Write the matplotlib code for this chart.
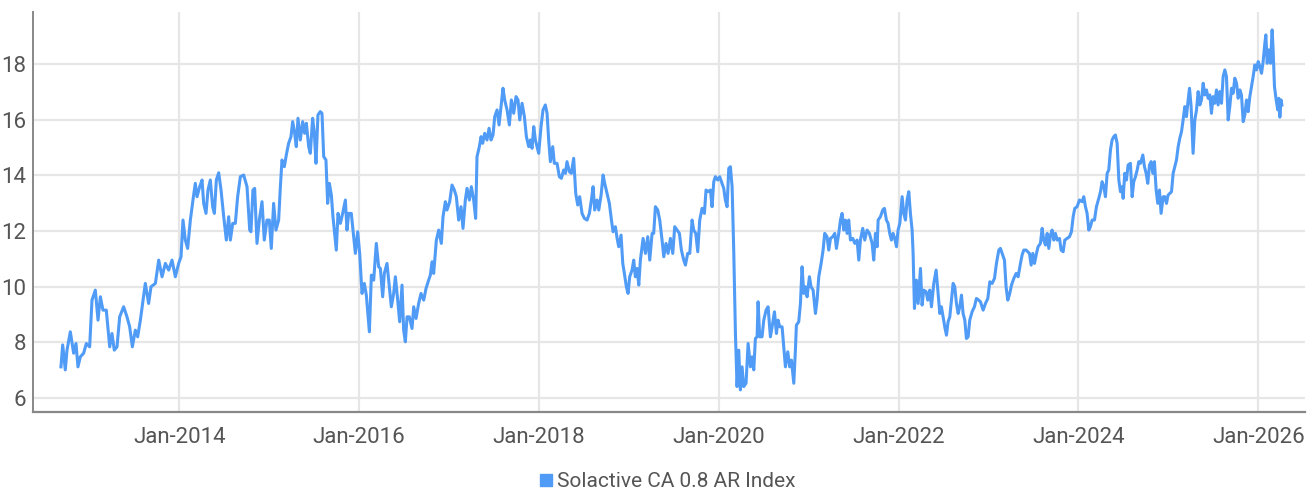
import matplotlib
matplotlib.use("Agg")
import matplotlib.pyplot as plt
from matplotlib.lines import Line2D

# index level, x as decimal year
years = [
    2012.684, 2012.703, 2012.732, 2012.751, 2012.788, 2012.825, 2012.851, 2012.873, 2012.899, 2012.936,
    2012.966, 2013.003, 2013.029, 2013.066, 2013.096, 2013.122, 2013.151, 2013.188, 2013.226, 2013.251,
    2013.277, 2013.307, 2013.337, 2013.381, 2013.418, 2013.448, 2013.478, 2013.511, 2013.537, 2013.567,
    2013.622, 2013.659, 2013.685, 2013.734, 2013.771, 2013.808, 2013.845, 2013.882, 2013.919, 2013.956,
    2013.993, 2014.019, 2014.041, 2014.067, 2014.093, 2014.123, 2014.152, 2014.178, 2014.197, 2014.227,
    2014.253, 2014.271, 2014.297, 2014.319, 2014.345, 2014.371, 2014.390, 2014.412, 2014.438, 2014.464,
    2014.494, 2014.523, 2014.549, 2014.568, 2014.594, 2014.623, 2014.649, 2014.679, 2014.716, 2014.753,
    2014.783,
    2014.797, 2014.819, 2014.838, 2014.864, 2014.890, 2014.920, 2014.945, 2014.975, 2015.001, 2015.023,
    2015.049, 2015.075, 2015.105, 2015.123, 2015.142, 2015.168, 2015.190, 2015.216, 2015.242, 2015.261,
    2015.283, 2015.301, 2015.320, 2015.346, 2015.372, 2015.394, 2015.413, 2015.439, 2015.457, 2015.483,
    2015.502, 2015.520, 2015.542, 2015.568, 2015.587, 2015.606, 2015.631, 2015.650, 2015.669, 2015.691,
    2015.709, 2015.724, 2015.746, 2015.765, 2015.791, 2015.817, 2015.847, 2015.865, 2015.884, 2015.913,
    2015.939, 2015.958, 2015.984, 2016.006, 2016.032, 2016.058, 2016.080, 2016.114, 2016.136, 2016.162,
    2016.191, 2016.217, 2016.236, 2016.262, 2016.280, 2016.310, 2016.336, 2016.358, 2016.384, 2016.403,
    2016.429, 2016.451, 2016.477, 2016.495, 2016.514, 2016.533, 2016.558, 2016.588, 2016.607, 2016.633,
    2016.662, 2016.688, 2016.718, 2016.744, 2016.773, 2016.792, 2016.811, 2016.829, 2016.859, 2016.885,
    2016.914, 2016.933, 2016.959, 2016.977, 2017.007, 2017.033, 2017.059, 2017.081,
    2017.107, 2017.133, 2017.155, 2017.181, 2017.200, 2017.226, 2017.248, 2017.274, 2017.296, 2017.311,
    2017.337, 2017.356, 2017.374, 2017.396, 2017.422, 2017.445, 2017.467, 2017.489, 2017.508, 2017.534,
    2017.556, 2017.578, 2017.600, 2017.619, 2017.645, 2017.671, 2017.693, 2017.719, 2017.745, 2017.767,
    2017.786, 2017.812, 2017.838, 2017.860, 2017.886, 2017.904, 2017.923, 2017.942, 2017.960, 2017.979,
    2017.997, 2018.023, 2018.045, 2018.071, 2018.090, 2018.108, 2018.127, 2018.153, 2018.171, 2018.201,
    2018.227, 2018.249, 2018.275, 2018.294, 2018.312, 2018.338, 2018.360, 2018.386, 2018.409, 2018.431,
    2018.453, 2018.479, 2018.505, 2018.535, 2018.561, 2018.583, 2018.602, 2018.620, 2018.646, 2018.665,
    2018.691, 2018.713, 2018.731, 2018.757, 2018.783, 2018.806, 2018.824, 2018.850, 2018.869, 2018.887,
    2018.913, 2018.932, 2018.950, 2018.972, 2018.991, 2019.009, 2019.035, 2019.054, 2019.072, 2019.091,
    2019.110, 2019.128, 2019.158, 2019.184, 2019.210, 2019.232, 2019.258, 2019.276, 2019.295, 2019.321,
    2019.343,
    2019.369, 2019.388, 2019.413, 2019.436, 2019.462, 2019.488, 2019.510, 2019.536, 2019.562, 2019.584,
    2019.610, 2019.629, 2019.654, 2019.677, 2019.703, 2019.721, 2019.744, 2019.766, 2019.788, 2019.814,
    2019.840, 2019.858, 2019.881, 2019.907, 2019.925, 2019.944, 2019.962, 2019.988, 2020.010, 2020.036,
    2020.055, 2020.073, 2020.092, 2020.111, 2020.129, 2020.148, 2020.166, 2020.185, 2020.203, 2020.222,
    2020.240, 2020.259, 2020.277, 2020.303, 2020.326, 2020.352, 2020.370, 2020.389, 2020.407, 2020.426,
    2020.437, 2020.455, 2020.481, 2020.500, 2020.526, 2020.548, 2020.574, 2020.593, 2020.619, 2020.641,
    2020.659, 2020.678, 2020.704, 2020.722, 2020.741, 2020.767, 2020.789, 2020.808, 2020.834, 2020.852,
    2020.863, 2020.889, 2020.908, 2020.926, 2020.945, 2020.963, 2020.982, 2021.008, 2021.026, 2021.049,
    2021.075, 2021.093, 2021.112, 2021.138, 2021.160, 2021.178, 2021.204, 2021.223, 2021.242, 2021.267,
    2021.290, 2021.308, 2021.334, 2021.353, 2021.371, 2021.390, 2021.408, 2021.427, 2021.445, 2021.464,
    2021.490, 2021.512, 2021.538, 2021.557, 2021.575, 2021.601, 2021.623, 2021.649, 2021.675,
    2021.705, 2021.723, 2021.742, 2021.761, 2021.772, 2021.798, 2021.823, 2021.842, 2021.864, 2021.883,
    2021.901, 2021.920, 2021.938, 2021.957, 2021.976, 2021.994, 2022.013, 2022.039, 2022.057, 2022.076,
    2022.094, 2022.113, 2022.131, 2022.150, 2022.161, 2022.176, 2022.198, 2022.217, 2022.243, 2022.261,
    2022.280, 2022.306, 2022.324, 2022.346, 2022.365, 2022.391, 2022.417, 2022.439, 2022.458, 2022.476,
    2022.495, 2022.513, 2022.532, 2022.550, 2022.569, 2022.587, 2022.606, 2022.624, 2022.643, 2022.662,
    2022.680, 2022.699, 2022.717, 2022.736, 2022.754, 2022.773, 2022.791, 2022.817, 2022.843, 2022.865,
    2022.891, 2022.910, 2022.940, 2022.966, 2022.992, 2023.014, 2023.040, 2023.066, 2023.088, 2023.114,
    2023.132, 2023.151, 2023.177, 2023.195, 2023.214, 2023.236, 2023.255, 2023.281, 2023.307, 2023.329,
    2023.355, 2023.373, 2023.392, 2023.418, 2023.436, 2023.455, 2023.474, 2023.492, 2023.511, 2023.533,
    2023.551, 2023.577, 2023.596, 2023.614, 2023.633, 2023.652, 2023.670, 2023.689, 2023.707, 2023.726,
    2023.744, 2023.763, 2023.789, 2023.807, 2023.830, 2023.848, 2023.874, 2023.900, 2023.922, 2023.941,
    2023.959, 2023.985, 2024.011,
    2024.041, 2024.059, 2024.078, 2024.096, 2024.115, 2024.133, 2024.152, 2024.178, 2024.200, 2024.226,
    2024.245, 2024.263, 2024.282, 2024.300, 2024.319, 2024.337, 2024.356, 2024.374, 2024.393, 2024.411,
    2024.430, 2024.449, 2024.467, 2024.486, 2024.497, 2024.515, 2024.534, 2024.552, 2024.578, 2024.597,
    2024.615, 2024.634, 2024.653, 2024.671, 2024.690, 2024.716, 2024.734, 2024.753, 2024.771, 2024.790,
    2024.808, 2024.827, 2024.845, 2024.864, 2024.882, 2024.901, 2024.919, 2024.942, 2024.960, 2024.979,
    2024.997, 2025.016, 2025.035, 2025.053, 2025.072, 2025.090, 2025.109, 2025.127, 2025.146, 2025.164,
    2025.183, 2025.201, 2025.220, 2025.235, 2025.253, 2025.275, 2025.294, 2025.313, 2025.331, 2025.350,
    2025.368, 2025.387, 2025.405, 2025.424, 2025.442, 2025.461, 2025.479, 2025.498, 2025.516, 2025.535,
    2025.553, 2025.572, 2025.591, 2025.609, 2025.628, 2025.646, 2025.665, 2025.683, 2025.702, 2025.720,
    2025.739, 2025.758, 2025.776, 2025.795, 2025.813, 2025.832, 2025.850, 2025.869, 2025.887, 2025.906,
    2025.924, 2025.943, 2025.961, 2025.980, 2025.999, 2026.017, 2026.036, 2026.054, 2026.073, 2026.084,
    2026.099, 2026.117, 2026.136, 2026.154, 2026.165, 2026.180, 2026.199, 2026.217, 2026.228, 2026.240,
    2026.254, 2026.262,
]

index_values = [
    7.11, 7.90, 7.00, 7.71, 8.37, 7.60, 7.95, 7.11, 7.47, 7.60,
    7.95, 7.83, 9.51, 9.87, 8.79, 9.63, 9.15, 9.15, 7.83, 8.31,
    7.71, 7.83, 8.91, 9.27, 8.91, 8.55, 7.83, 8.43, 8.19, 8.79,
    10.11, 9.39, 9.99, 10.11, 10.95, 10.35, 10.83, 10.59, 10.95, 10.35,
    10.83, 11.07, 12.39, 11.67, 11.37, 12.39, 13.11, 13.71, 13.23, 13.59,
    13.83, 12.99, 12.63, 13.47, 13.83, 12.87, 12.63, 13.83, 14.09, 13.47,
    12.51, 11.67, 12.51, 11.67, 12.27, 12.27, 13.23, 13.95, 14.01, 13.59,
    12.03,
    11.97, 13.47, 13.53, 11.55, 12.39, 13.05, 11.67, 12.39, 12.39, 11.37,
    12.99, 12.03, 12.39, 13.53, 14.55, 14.31, 14.73, 15.15, 15.39, 15.93,
    15.51, 15.03, 16.05, 15.27, 15.93, 15.51, 15.87, 15.03, 14.79, 16.05,
    15.51, 14.43, 16.17, 16.29, 16.23, 14.67, 14.55, 12.99, 13.71, 13.29,
    12.51, 12.03, 11.31, 12.63, 12.27, 12.63, 13.11, 12.03, 12.63, 12.63,
    11.79, 11.19, 11.97, 11.19, 9.75, 10.11, 9.69, 8.37, 10.41, 10.23,
    11.55, 10.71, 10.65, 9.63, 10.47, 10.83, 9.99, 9.27, 9.75, 10.35,
    9.51, 8.73, 10.05, 8.43, 8.01, 8.91, 8.91, 8.49, 9.27, 8.85,
    9.39, 9.75, 9.51, 9.93, 10.23, 10.41, 10.89, 10.47, 11.67, 12.03,
    11.55, 12.51, 13.05, 12.75, 13.05, 13.65, 13.47, 13.23,
    12.39, 12.87, 12.09, 13.11, 13.53, 13.11, 13.59, 13.11, 12.45, 14.67,
    15.03, 15.39, 15.15, 15.51, 15.27, 15.69, 15.27, 15.45, 16.11, 16.35,
    15.81, 16.47, 17.13, 16.71, 16.35, 15.81, 16.71, 16.23, 16.83, 16.71,
    15.99, 16.59, 16.11, 15.39, 15.03, 15.27, 14.97, 15.75, 15.27, 15.03,
    14.79, 15.75, 16.35, 16.53, 16.23, 15.27, 14.49, 15.03, 14.43, 14.43,
    13.95, 13.89, 14.19, 14.07, 14.49, 14.13, 14.07, 14.61, 13.35, 12.93,
    13.23, 12.63, 12.45, 12.39, 12.63, 13.11, 13.59, 12.75, 13.11, 12.75,
    13.29, 14.01, 13.71, 13.35, 12.99, 12.39, 11.97, 12.15, 11.73, 11.43,
    11.85, 10.83, 10.47, 9.99, 9.75, 10.35, 10.59, 10.95, 10.35, 10.65,
    10.05, 10.95, 11.73, 11.19, 11.79, 10.95, 11.91, 11.91, 12.87, 12.75,
    12.39,
    11.67, 11.07, 11.55, 11.19, 11.73, 11.19, 12.15, 12.03, 11.91, 11.31,
    10.95, 10.77, 11.19, 11.19, 12.39, 12.03, 11.91, 11.25, 12.39, 12.81,
    12.63, 13.47, 13.41, 13.47, 12.87, 13.77, 13.95, 13.83, 13.95, 13.71,
    13.53, 13.11, 12.87, 14.25, 14.31, 13.59, 11.31, 8.31, 6.40, 7.71,
    6.28, 7.11, 6.40, 6.52, 7.95, 7.11, 7.47, 7.00, 8.13, 8.19,
    9.45, 8.19, 8.19, 8.79, 9.15, 9.27, 8.19, 8.55, 9.09, 8.31,
    8.79, 8.55, 8.55, 7.83, 7.11, 7.65, 7.11, 7.35, 6.52, 7.71,
    8.61, 8.73, 9.39, 10.71, 9.75, 9.99, 9.63, 10.35, 9.99, 9.87,
    9.03, 9.51, 10.35, 10.83, 11.31, 11.91, 11.79, 11.31, 11.73, 11.79,
    11.91, 11.37, 11.91, 12.39, 12.63, 12.03, 12.39, 11.91, 12.39, 11.67,
    11.73, 11.55, 11.67, 10.95, 11.67, 12.09, 11.67, 12.03, 11.91,
    11.55, 10.95, 11.91, 11.43, 12.39, 12.51, 12.75, 12.81, 12.39, 12.27,
    11.91, 11.67, 11.91, 11.73, 11.43, 12.03, 12.27, 13.23, 12.63, 12.39,
    13.11, 13.41, 12.63, 12.03, 11.19, 9.21, 10.23, 9.39, 10.65, 9.33,
    9.87, 9.81, 9.51, 9.87, 9.27, 10.11, 10.59, 9.75, 9.03, 9.27,
    8.91, 8.55, 8.25, 8.73, 8.91, 9.51, 10.11, 9.99, 9.39, 9.03,
    9.27, 9.69, 9.03, 8.79, 8.13, 8.19, 8.79, 9.09, 9.27, 9.57,
    9.51, 9.45, 9.15, 9.39, 9.57, 10.17, 10.11, 10.29, 10.83, 11.31,
    11.37, 11.19, 10.95, 9.99, 9.51, 9.75, 10.05, 10.29, 10.47, 10.35,
    10.83, 11.13, 11.31, 11.31, 11.25, 11.19, 10.77, 11.19, 10.83, 11.19,
    11.43, 11.55, 12.09, 11.67, 11.49, 11.91, 11.37, 11.85, 12.03, 11.67,
    11.91, 11.67, 11.73, 11.31, 11.25, 11.67, 11.73, 11.79, 11.97, 12.51,
    12.81, 12.87, 13.11,
    13.05, 13.23, 12.87, 12.63, 12.03, 12.15, 12.39, 12.39, 12.87, 13.17,
    13.41, 13.77, 13.59, 13.23, 14.07, 14.19, 14.91, 15.27, 15.39, 15.45,
    15.15, 13.83, 13.41, 13.59, 13.17, 14.07, 13.83, 14.37, 14.43, 13.23,
    13.77, 13.95, 14.19, 14.49, 14.43, 14.73, 14.31, 14.07, 13.71, 14.37,
    14.49, 14.07, 14.49, 13.47, 12.99, 13.47, 12.63, 13.23, 13.23, 12.99,
    13.29, 13.35, 13.41, 14.07, 14.31, 14.55, 15.03, 15.33, 15.57, 15.99,
    16.47, 16.11, 16.71, 17.13, 16.47, 14.79, 15.99, 16.35, 17.01, 16.53,
    16.71, 17.31, 16.89, 17.07, 16.77, 16.89, 16.23, 16.83, 16.59, 17.07,
    16.53, 17.01, 16.59, 17.55, 17.79, 17.55, 15.99, 16.47, 17.13, 16.95,
    17.49, 17.31, 16.77, 17.07, 16.89, 15.93, 16.17, 16.71, 16.29, 16.83,
    17.19, 17.55, 17.97, 17.79, 18.09, 17.91, 17.67, 18.09, 18.75, 19.05,
    18.03, 18.51, 18.03, 19.23, 18.51, 17.19, 16.71, 16.35, 16.77, 16.09,
    16.71, 16.53,
]

tick_years = [2014, 2016, 2018, 2020, 2022, 2024, 2026]
tick_labels = ["Jan-2014", "Jan-2016", "Jan-2018", "Jan-2020", "Jan-2022", "Jan-2024", "Jan-2026"]
y_ticks = [6, 8, 10, 12, 14, 16, 18]
series_name = "Solactive CA 0.8 AR Index"

line_color = "#4f9bf6"
label_color = "#555555"

plt.rcParams["font.family"] = ["Roboto", "DejaVu Sans"]

fig = plt.figure(figsize=(13.12, 4.93), dpi=100)
ax = fig.add_axes([0.0255, 0.1643, 0.9692, 0.8114])

ax.plot(years, index_values, color=line_color, linewidth=2.2, solid_joinstyle="round")

ax.set_xlim(2012.378, 2026.52)
ax.set_ylim(5.486, 19.874)
ax.set_xticks(tick_years)
ax.set_xticklabels(tick_labels)
ax.set_yticks(y_ticks)

ax.grid(True, color="#e6e6e6", linewidth=1.6)
ax.set_axisbelow(True)
for side in ["top", "right"]:
    ax.spines[side].set_visible(False)
ax.spines["left"].set_color("#888888")
ax.spines["left"].set_linewidth(1.4)
ax.spines["bottom"].set_color("#888888")
ax.spines["bottom"].set_linewidth(1.6)
ax.tick_params(axis="both", length=0, labelsize=16, labelcolor=label_color)
ax.tick_params(axis="x", pad=10.5)
ax.tick_params(axis="y", pad=5)

handle = Line2D([], [], color=line_color, marker="s", linestyle="none", markersize=8)
fig.legend([handle], [series_name], loc="center", bbox_to_anchor=(0.508, 0.023),
           frameon=False, fontsize=15, labelcolor=label_color,
           handletextpad=0.1, handlelength=0.8)

fig.savefig("out.png", dpi=100)
